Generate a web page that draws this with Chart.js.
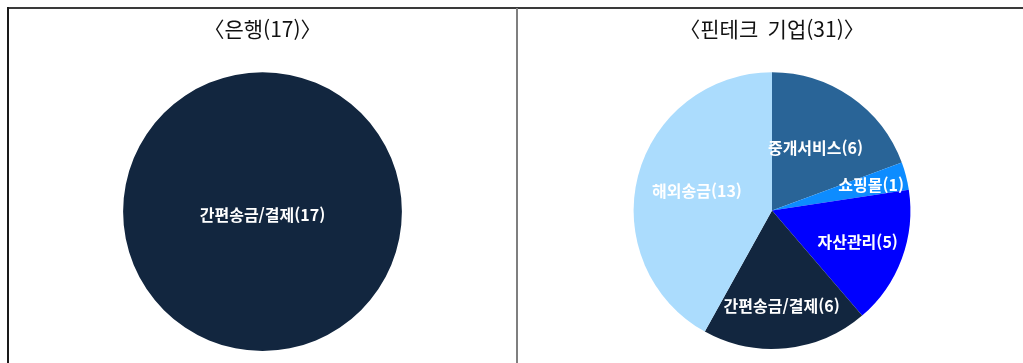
<!DOCTYPE html>
<html lang="ko">
<head>
<meta charset="utf-8">
<script src="https://cdn.jsdelivr.net/npm/chart.js@4"></script>
<style>
  html, body { margin: 0; padding: 0; background: #fff; overflow: hidden; }
  body { width: 1023px; height: 363px; position: relative; }
  .frame-top { position: absolute; left: 7px; top: 7px; width: 1016px; height: 2px; background: #3a3a3a; }
  .frame-left { position: absolute; left: 7px; top: 7px; width: 2px; height: 356px; background: #1a1a1a; }
  .divider { position: absolute; left: 516px; top: 8px; width: 2px; height: 355px; background: #7f7f7f; }
  .panel { position: absolute; top: 9px; height: 354px; }
  #bankPanel { left: 9px; width: 507px; }
  #fintechPanel { left: 518px; width: 505px; }
</style>
</head>
<body>
<div class="frame-top"></div>
<div class="frame-left"></div>
<div class="divider"></div>
<div class="panel" id="bankPanel"><canvas id="bankChart"></canvas></div>
<div class="panel" id="fintechPanel"><canvas id="fintechChart"></canvas></div>

<script>
// 은행: 서비스 유형별 건수
const bankLabels = ['간편송금/결제'];
const bankValues = [17];
const bankColors = ['#12263f'];

// 핀테크 기업: 서비스 유형별 건수 (12시 방향부터 시계방향)
const fintechLabels = ['중개서비스', '쇼핑몰', '자산관리', '간편송금/결제', '해외송금'];
const fintechValues = [6, 1, 5, 6, 13];
const fintechColors = ['#296497', '#0d8cff', '#0000ff', '#12263f', '#abdcfd'];

const FONT = '"Noto Sans CJK KR", "Noto Sans", sans-serif';

// 조각 안에 "이름(값)" 라벨을 그리는 플러그인
const sliceLabels = {
  id: 'sliceLabels',
  afterDatasetsDraw(chart, args, opts) {
    const ctx = chart.ctx;
    const meta = chart.getDatasetMeta(0);
    const values = chart.data.datasets[0].data;
    ctx.save();
    ctx.fillStyle = '#fff';
    ctx.font = 'bold 16px ' + FONT;
    ctx.textAlign = 'center';
    ctx.textBaseline = 'middle';
    meta.data.forEach((arc, i) => {
      const p = arc.getProps(['x', 'y', 'startAngle', 'endAngle', 'outerRadius'], true);
      let x = p.x, y = p.y;
      if (p.endAngle - p.startAngle < Math.PI * 2 - 0.001) {
        const mid = (p.startAngle + p.endAngle) / 2;
        const f = (opts.radius && opts.radius[i]) || 0.62;
        x += Math.cos(mid) * p.outerRadius * f;
        y += Math.sin(mid) * p.outerRadius * f;
      } else {
        y += 3;
      }
      ctx.fillText(chart.data.labels[i] + '(' + values[i] + ')', x, y);
    });
    ctx.restore();
  }
};

function makePie(id, title, labels, values, colors, padding, radius) {
  return new Chart(document.getElementById(id), {
    type: 'pie',
    data: {
      labels: labels,
      datasets: [{
        data: values,
        backgroundColor: colors,
        borderWidth: 0
      }]
    },
    options: {
      responsive: true,
      maintainAspectRatio: false,
      animation: false,
      layout: { padding: padding },
      plugins: {
        legend: { display: false },
        tooltip: { enabled: false },
        title: {
          display: true,
          text: title,
          color: '#111',
          font: { family: FONT, size: 21, weight: 'normal' },
          padding: { top: 7, bottom: 31 }
        },
        sliceLabels: { radius: radius }
      }
    },
    plugins: [sliceLabels]
  });
}

makePie('bankChart', '〈은행(17)〉', bankLabels, bankValues, bankColors,
  { left: 0, right: 0, top: 0, bottom: 12 }, null);

makePie('fintechChart', '〈핀테크  기업(31)〉', fintechLabels, fintechValues, fintechColors,
  { left: 3, right: 0, top: 0, bottom: 14 }, [0.55, 0.74, 0.66, 0.69, 0.56]);
</script>
</body>
</html>
